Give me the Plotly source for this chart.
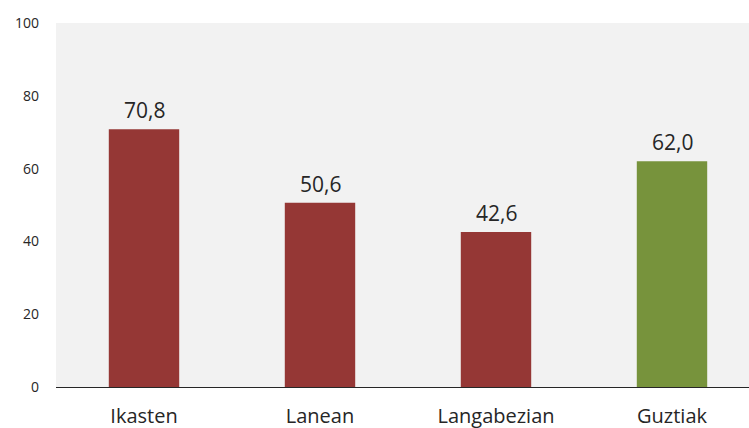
import plotly.graph_objects as go

categories = ["Ikasten", "Lanean", "Langabezian", "Guztiak"]
values = [70.8, 50.6, 42.6, 62.0]
colors = ["#953735", "#953735", "#953735", "#77933C"]
y_ticks = [0, 20, 40, 60, 80, 100]

FONT = "Open Sans, Liberation Sans, sans-serif"

fig = go.Figure()
fig.add_trace(go.Bar(
    x=categories, y=values, marker_color=colors, width=0.4,
    marker_line_width=0, hoverinfo="skip",
))

for c, v in zip(categories, values):
    fig.add_annotation(
        x=c, y=v, text=f"{v:.1f}".replace(".", ","), showarrow=False,
        yanchor="bottom", yshift=3,
        font=dict(family=FONT, size=21, color="#262626"),
    )

fig.update_layout(
    width=749, height=428,
    margin=dict(l=56, r=0, t=23, b=41, autoexpand=False),
    paper_bgcolor="white", plot_bgcolor="#F2F2F2",
    showlegend=False,
)
fig.update_xaxes(
    range=[-0.5, 3.4375], showline=True, linecolor="#262626", linewidth=1.3,
    ticks="", tickfont=dict(family=FONT, size=20, color="#262626"),
    ticklabelstandoff=11, automargin=False, fixedrange=True,
)
fig.update_yaxes(
    range=[0, 100], tickvals=y_ticks, showgrid=False, zeroline=False, showline=False,
    tickfont=dict(family=FONT, size=14, color="#262626"),
    ticklabelstandoff=16, automargin=False, fixedrange=True,
)

fig.write_html(
    "out.html",
    config={"displayModeBar": False},
    post_script="document.body.style.margin='0';document.body.style.overflow='hidden';",
)
